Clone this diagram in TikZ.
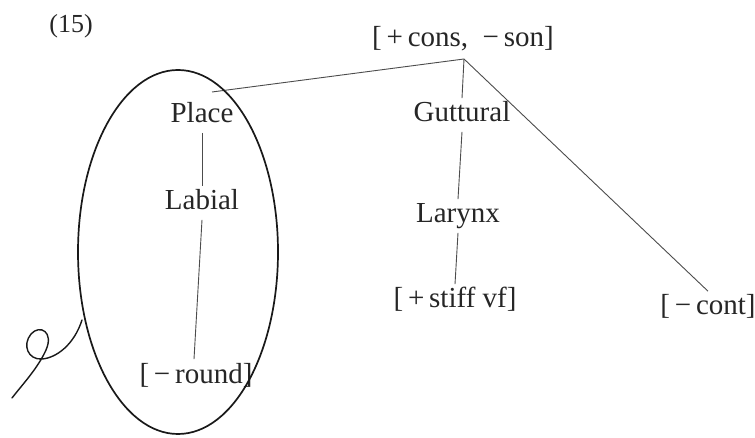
\documentclass[tikz,border=0pt]{standalone}
\usepackage{fontspec}
\setmainfont{Liberation Serif}
\begin{document}
\begin{tikzpicture}[x=1pt,y=1pt,
  lab/.style={inner sep=0pt, outer sep=3.8pt, anchor=base, text height=20pt, text depth=6pt,
              font=\fontsize{29}{30}\selectfont, text=black!85},
  branch/.style={draw=black!70, line width=0.9pt},
  ring/.style={draw=black!90, line width=1.7pt}]
\useasboundingbox (0,0) rectangle (755,-438);
\fill[white] (0,0) rectangle (755,-438);
% label
\node[lab, font=\fontsize{26}{28}\selectfont] (num) at (71,-33) {(15)};
% right tree
\node[lab] (cons) at (463,-47) {[\,+\,cons,\ \ −\,son]};
\coordinate (apex) at (464,-59);
\node[lab] (gutt) at (462,-122) {Guttural};
\node[lab] (lar) at (458,-223) {Larynx};
\node[lab] (stiff) at (455,-308) {[\,+\,stiff vf]};
\node[lab] (cont) at (708,-315) {[\,−\,cont]};
% left tree
\node[lab] (place) at (202,-123) {Place};
\node[lab] (labial) at (202,-210) {Labial};
\node[lab] (round) at (196,-383) {[\,−\,round]};
\coordinate (pend) at (212,-92);
% connectors
\draw[branch] (apex) -- (pend);
\draw[branch] (apex) -- (gutt.north);
\draw[branch] (apex) -- (cont.north);
\draw[branch] (gutt.south) -- (lar.north);
\draw[branch] (lar.south) -- (stiff.north);
\draw[branch] (place.south) -- (labial.north);
\draw[branch] (labial.south) -- ([xshift=-2pt]round.north);
% ellipse
\draw[ring] (178,-252) ellipse [x radius=100pt, y radius=182pt];
% squiggle
\draw[draw=black!90, line width=1.4pt, line cap=round]
  (82,-320) .. controls (74,-345) and (56,-358) .. (42,-359)
  .. controls (28,-360) and (22,-345) .. (31,-334)
  .. controls (40,-324) and (54,-332) .. (46,-350)
  .. controls (38,-368) and (22,-385) .. (12,-398);
\end{tikzpicture}
\end{document}
